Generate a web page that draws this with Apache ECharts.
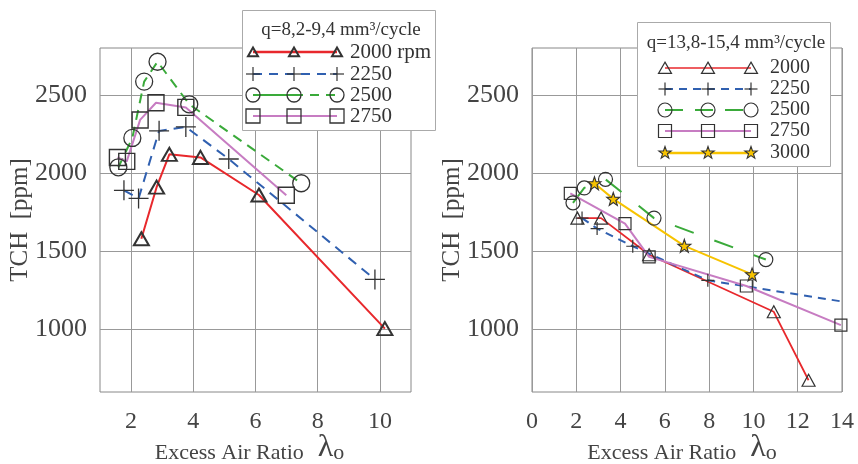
<!DOCTYPE html>
<html><head><meta charset="utf-8">
<script src="https://cdn.jsdelivr.net/npm/echarts@6/dist/echarts.min.js"></script>
<style>html,body{margin:0;padding:0;background:#fff}#c{width:858px;height:464px}</style>
</head><body><div id="c"></div>
<script>
// ---- tick labels ----
const leftXTicks = [2, 4, 6, 8, 10];
const yTicks = [1000, 1500, 2000, 2500];

// ---- left panel: q = 8,2-9,4 mm3/cycle  ([lambda, TCH ppm]) ----
const L2000 = [[2.33,1580],[2.82,1910],[3.23,2120],[4.23,2100],[6.11,1860],[10.16,1005]];
const L2250 = [[1.77,1890],[2.24,1838],[2.9,2270],[3.76,2295],[5.14,2090],[9.84,1320]];
const L2500 = [[1.59,2037],[2.04,2225],[2.42,2585],[2.85,2712],[3.87,2440],[7.47,1935]];
const L2750 = [[1.56,2100],[1.86,2075],[2.29,2340],[2.8,2450],[3.76,2420],[6.99,1858]];

// ---- right panel: q = 13,8-15,4 mm3/cycle ----
const R2000 = [[2.05,1712],[3.12,1712],[5.29,1478],[10.92,1113],[12.49,675]];
const R2250 = [[2.26,1712],[2.94,1645],[4.55,1532],[7.94,1314],[14.08,1177]];
const R2500 = [[1.85,1810],[2.36,1905],[3.32,1960],[5.51,1712],[10.56,1447]];
const R2750 = [[1.73,1870],[4.2,1677],[5.29,1464],[9.68,1278],[13.95,1028]];
const R3000 = [[2.82,1935],[3.67,1835],[6.88,1535],[9.94,1352]];

const leftTitle = 'q=8,2-9,4 mm³/cycle';
const rightTitle = 'q=13,8-15,4 mm³/cycle';
const leftNames = ['2000 rpm', '2250', '2500', '2750'];
const rightNames = ['2000', '2250', '2500', '2750', '3000'];

const RED = '#e8282c', BLUE = '#3060b0', GREEN = '#3aaa3a', PINK = '#c77cc2', YEL = '#f7c300';
const FONT = '"Liberation Serif", "Times New Roman", serif';
const PLUS = 'path://M10,0L10,20M0,10L20,10';
const STAR = 'path://M10,0L12.35,6.76L19.51,6.91L13.8,11.24L15.88,18.09L10,14L4.12,18.09L6.2,11.24L0.49,6.91L7.65,6.76Z';

function ser(name, data, gi, color, type, width, symbol, size, bw, fill) {
  return {
    name: name, type: 'line', xAxisIndex: gi, yAxisIndex: gi, data: data,
    symbol: symbol, symbolSize: size, showAllSymbol: true,
    lineStyle: { color: color, width: width, type: type },
    itemStyle: { color: fill || 'rgba(0,0,0,0)', borderColor: '#333', borderWidth: bw },
    emphasis: { disabled: true }, animation: false
  };
}

function xAxisName(padRight) {
  return {
    name: '{a|Excess Air Ratio}{l|λ}{o|o}',
    nameLocation: 'middle', nameGap: 38, nameMoveOverlap: false,
    nameTextStyle: { rich: {
      a: { fontFamily: FONT, fontSize: 22, color: '#444', lineHeight: 24, verticalAlign: 'bottom' },
      l: { fontFamily: FONT, fontSize: 32, color: '#444', lineHeight: 34, verticalAlign: 'bottom', padding: [0, 0, 0, 14] },
      o: { fontFamily: FONT, fontSize: 22, color: '#444', lineHeight: 8, verticalAlign: 'bottom', padding: [0, padRight, 0, 0] }
    } }
  };
}

function plain(v) { return String(v); }

function xAx(gi, min, max, custom, padRight) {
  const a = Object.assign({
    gridIndex: gi, type: 'value', min: min, max: max,
    axisLine: { show: false },
    axisLabel: { fontFamily: FONT, fontSize: 24, color: '#444', margin: 18, formatter: plain },
    axisTick: { show: false },
    splitLine: { show: true, lineStyle: { color: '#999', width: 1 } }
  }, xAxisName(padRight));
  if (custom) { a.axisLabel.customValues = custom; a.axisTick.customValues = custom; }
  else { a.interval = 2; }
  return a;
}
function yAx(gi) {
  return {
    gridIndex: gi, type: 'value', min: 600, max: 2800,
    axisLine: { show: false },
    axisLabel: { fontFamily: FONT, fontSize: 26, color: '#444', margin: 13, customValues: yTicks, formatter: plain },
    axisTick: { show: false, customValues: yTicks },
    splitLine: { show: true, lineStyle: { color: '#999', width: 1 } },
    name: 'TCH  [ppm]', nameLocation: 'middle', nameRotate: 90, nameGap: 67, nameMoveOverlap: false,
    nameTextStyle: { fontFamily: FONT, fontSize: 25, color: '#444', lineHeight: 26 }
  };
}

// ---- legend drawn with graphic elements ----
const G = [];
function symEl(kind, cx, cy, s, lw, fill) {
  const st = { fill: fill || 'none', stroke: '#333', lineWidth: lw };
  if (kind === 'triangle') return { type: 'polygon', z: 102, shape: { points: [[cx, cy - s * 0.45], [cx + s / 2, cy + s * 0.42], [cx - s / 2, cy + s * 0.42]] }, style: st };
  if (kind === 'circle') return { type: 'circle', z: 102, shape: { cx: cx, cy: cy, r: s / 2 }, style: st };
  if (kind === 'rect') return { type: 'rect', z: 102, shape: { x: cx - s / 2, y: cy - s / 2, width: s, height: s }, style: st };
  if (kind === 'plus') return { type: 'group', z: 102, children: [
    { type: 'line', z: 102, shape: { x1: cx - s / 2, y1: cy, x2: cx + s / 2, y2: cy }, style: { stroke: '#333', lineWidth: lw } },
    { type: 'line', z: 102, shape: { x1: cx, y1: cy - s / 2, x2: cx, y2: cy + s / 2 }, style: { stroke: '#333', lineWidth: lw } }] };
  if (kind === 'star') {
    const pts = [];
    for (let i = 0; i < 10; i++) {
      const r = (i % 2 === 0 ? s / 2 : s * 0.2);
      const ang = -Math.PI / 2 + i * Math.PI / 5;
      pts.push([cx + r * Math.cos(ang), cy + r * Math.sin(ang)]);
    }
    return { type: 'polygon', z: 102, shape: { points: pts }, style: st };
  }
}
function legendRow(xs, y, color, dash, width, kind, s, lw, fill, text, tx, fs, split) {
  if (split) {
    G.push({ type: 'line', z: 101, shape: { x1: xs[0], y1: y, x2: xs[1], y2: y }, style: { stroke: color, lineWidth: width } });
    G.push({ type: 'line', z: 101, shape: { x1: xs[1], y1: y, x2: xs[2], y2: y }, style: { stroke: color, lineWidth: width, lineDash: split } });
  } else {
    G.push({ type: 'line', z: 101, shape: { x1: xs[0], y1: y, x2: xs[2], y2: y }, style: { stroke: color, lineWidth: width, lineDash: dash } });
  }
  xs.forEach(function (x) { G.push(symEl(kind, x, y, s, lw, fill)); });
  G.push({ type: 'text', z: 102, style: { text: text, x: tx, y: y, fill: '#333', font: fs + 'px ' + FONT, verticalAlign: 'middle', textVerticalAlign: 'middle' } });
}

// left legend box
G.push({ type: 'rect', z: 100, shape: { x: 242.5, y: 10.5, width: 193, height: 120 }, style: { fill: '#fff', stroke: '#aaa', lineWidth: 1 } });
G.push({ type: 'text', z: 102, style: { text: leftTitle, x: 341, y: 30, fill: '#333', font: '19px ' + FONT, align: 'center', textAlign: 'center', verticalAlign: 'middle', textVerticalAlign: 'middle' } });
const lx = [253, 294, 337];
legendRow(lx, 52, RED, null, 2.5, 'triangle', 10, 2, null, leftNames[0], 350, 21);
legendRow(lx, 74, BLUE, [9, 7], 2, 'plus', 14, 1.2, null, leftNames[1], 350, 21);
legendRow(lx, 95, GREEN, null, 1.8, 'circle', 14, 1.3, null, leftNames[2], 350, 21, [9, 7]);
legendRow(lx, 116, PINK, null, 2, 'rect', 14, 1.3, null, leftNames[3], 350, 21);

// right legend box
G.push({ type: 'rect', z: 100, shape: { x: 637.5, y: 22.5, width: 193, height: 144 }, style: { fill: '#fff', stroke: '#aaa', lineWidth: 1 } });
G.push({ type: 'text', z: 102, style: { text: rightTitle, x: 736, y: 43, fill: '#333', font: '19px ' + FONT, align: 'center', textAlign: 'center', verticalAlign: 'middle', textVerticalAlign: 'middle' } });
const rx = [665, 708, 751];
legendRow(rx, 68, RED, null, 1.5, 'triangle', 13, 1.2, null, rightNames[0], 770, 20);
legendRow(rx, 89, BLUE, [8, 6], 2, 'plus', 13, 1.2, null, rightNames[1], 770, 20);
legendRow(rx, 110, GREEN, [18, 12], 2, 'circle', 14, 1.2, null, rightNames[2], 770, 20);
legendRow(rx, 131, PINK, null, 2, 'rect', 13, 1.2, null, rightNames[3], 770, 20);
legendRow(rx, 153, YEL, null, 2.5, 'star', 13, 1.1, YEL, rightNames[4], 770, 20);

const chart = echarts.init(document.getElementById('c'), null, { renderer: 'canvas' });
chart.setOption({
  animation: false,
  backgroundColor: '#fff',
  grid: [
    { left: 100, top: 48, width: 311, height: 344, show: true, borderColor: '#888', borderWidth: 1, backgroundColor: 'rgba(0,0,0,0)', containLabel: false, outerBoundsMode: 'none' },
    { left: 532, top: 48, width: 310, height: 344, show: true, borderColor: '#888', borderWidth: 1, backgroundColor: 'rgba(0,0,0,0)', containLabel: false, outerBoundsMode: 'none' }
  ],
  xAxis: [xAx(0, 1, 11, leftXTicks, 12), xAx(1, 0, 14, null, 10)],
  yAxis: [yAx(0), yAx(1)],
  series: [
    ser('2000', L2000, 0, RED, 'solid', 2, 'triangle', [15, 13], 2, null),
    ser('2250', L2250, 0, BLUE, [10, 7], 2, PLUS, 20, 1.3, null),
    ser('2500', L2500, 0, GREEN, [10, 7], 2, 'circle', 17, 1.3, null),
    ser('2750', L2750, 0, PINK, 'solid', 2, 'rect', 16, 1.4, null),
    ser('2000', R2000, 1, RED, 'solid', 1.8, 'triangle', [13, 12], 1.2, null),
    ser('2250', R2250, 1, BLUE, [8, 6], 2, PLUS, 13, 1.2, null),
    ser('2500', R2500, 1, GREEN, [20, 22], 2, 'circle', 14, 1.2, null),
    ser('2750', R2750, 1, PINK, 'solid', 2, 'rect', 12, 1.2, null),
    ser('3000', R3000, 1, YEL, 'solid', 2, STAR, 13, 1.1, YEL)
  ],
  graphic: { elements: G }
});
</script></body></html>
